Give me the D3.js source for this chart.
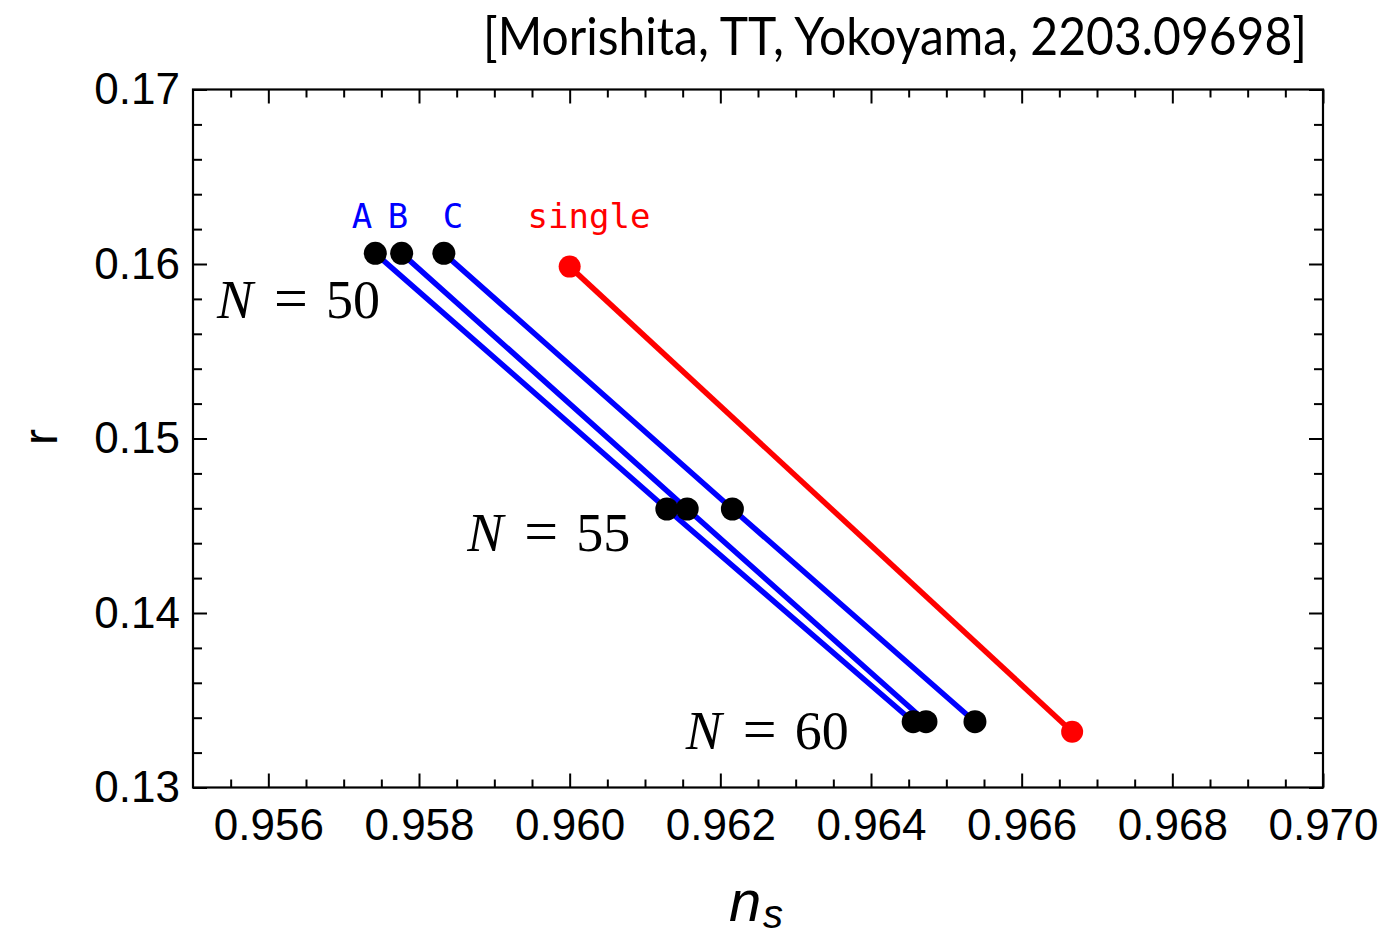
<!DOCTYPE html>
<html>
<head>
<meta charset="utf-8">
<script src="https://cdn.jsdelivr.net/npm/d3@7"></script>
<style>
  html, body { margin: 0; padding: 0; background: #fff; }
  svg { display: block; }
</style>
</head>
<body>
<script>
// e-folding numbers of the three points on each curve
const efolds = [50, 55, 60];

// spectral index n_s and tensor-to-scalar ratio r for each model
const nsA = [0.95742, 0.96129, 0.96456];
const rA  = [0.16061, 0.14596, 0.13377];
const nsB = [0.95777, 0.96156, 0.96473];
const rB  = [0.16061, 0.14596, 0.13377];
const nsC = [0.95833, 0.96216, 0.96538];
const rC  = [0.16061, 0.14596, 0.13377];
const nsSingle = [0.96000, 0.96667];
const rSingle  = [0.15985, 0.13320];

// axis ticks
const xTicks = [0.956, 0.958, 0.960, 0.962, 0.964, 0.966, 0.968, 0.970];
const xTickLabels = ["0.956", "0.958", "0.960", "0.962", "0.964", "0.966", "0.968", "0.970"];
const yTicks = [0.13, 0.14, 0.15, 0.16, 0.17];
const yTickLabels = ["0.13", "0.14", "0.15", "0.16", "0.17"];

// model name labels (anchor in data units)
const modelNames = ["A", "B", "C", "single"];
const modelNameNs = [0.957243, 0.957721, 0.958451, 0.960257];
const modelNameR = [0.16206, 0.16206, 0.16206, 0.16206];

// N labels (left edge / baseline in data units)
const nLabelValues = ["50", "55", "60"];
const nLabelNs = [0.95536, 0.95868, 0.96158];
const nLabelR = [0.15691, 0.14355, 0.13221];

(function draw() {
  const W = 1400, H = 939;
  const margin = { left: 193, right: 77, top: 89.5, bottom: 151.5 };

  const svg = d3.select("body").append("svg")
    .attr("width", W).attr("height", H)
    .attr("viewBox", `0 0 ${W} ${H}`);

  const x = d3.scaleLinear().domain([0.955, 0.970]).range([margin.left, W - margin.right]);
  const y = d3.scaleLinear().domain([0.13, 0.17]).range([H - margin.bottom, margin.top]);

  const tickFont = "'Liberation Sans', Arial, sans-serif";

  // minor ticks between the labelled ones
  const isMajor = (v, origin, step) => Math.abs((v - origin) / step - Math.round((v - origin) / step)) < 1e-6;
  const xMinor = d3.range(1, 30).map(i => 0.955 + i * 0.0005).filter(v => !isMajor(v, 0.956, 0.002));
  const yMinor = d3.range(1, 20).map(i => 0.13 + i * 0.002).filter(v => !isMajor(v, 0.13, 0.01));

  function styleAxis(g) {
    g.select(".domain").remove();
    g.selectAll("line").attr("stroke", "#000").attr("stroke-width", 2);
    g.selectAll("text").attr("font-family", tickFont).attr("font-size", 44).attr("fill", "#000");
  }

  const yBot = H - margin.bottom, yTop = margin.top, xLeft = margin.left, xRight = W - margin.right;

  // bottom axis: labelled major ticks + minor ticks
  svg.append("g").attr("transform", `translate(0,${yBot})`)
    .call(d3.axisBottom(x).tickValues(xTicks).tickFormat((d, i) => xTickLabels[i]).tickSize(-14).tickPadding(21))
    .call(styleAxis);
  svg.append("g").attr("transform", `translate(0,${yBot})`)
    .call(d3.axisBottom(x).tickValues(xMinor).tickFormat("").tickSize(-8))
    .call(styleAxis);
  // top axis
  svg.append("g").attr("transform", `translate(0,${yTop})`)
    .call(d3.axisTop(x).tickValues(xTicks).tickFormat("").tickSize(-14))
    .call(styleAxis);
  svg.append("g").attr("transform", `translate(0,${yTop})`)
    .call(d3.axisTop(x).tickValues(xMinor).tickFormat("").tickSize(-8))
    .call(styleAxis);
  // left axis
  svg.append("g").attr("transform", `translate(${xLeft},0)`)
    .call(d3.axisLeft(y).tickValues(yTicks).tickFormat((d, i) => yTickLabels[i]).tickSize(-14).tickPadding(13))
    .call(styleAxis);
  svg.append("g").attr("transform", `translate(${xLeft},0)`)
    .call(d3.axisLeft(y).tickValues(yMinor).tickFormat("").tickSize(-9))
    .call(styleAxis);
  // right axis
  svg.append("g").attr("transform", `translate(${xRight},0)`)
    .call(d3.axisRight(y).tickValues(yTicks).tickFormat("").tickSize(-14))
    .call(styleAxis);
  svg.append("g").attr("transform", `translate(${xRight},0)`)
    .call(d3.axisRight(y).tickValues(yMinor).tickFormat("").tickSize(-9))
    .call(styleAxis);

  // frame
  svg.append("rect")
    .attr("x", xLeft).attr("y", yTop)
    .attr("width", xRight - xLeft).attr("height", yBot - yTop)
    .attr("fill", "none").attr("stroke", "#000").attr("stroke-width", 2.2);

  // curves
  const series = [
    { ns: nsA, r: rA, color: "#0000ff", dot: "#000", rad: 11.5 },
    { ns: nsB, r: rB, color: "#0000ff", dot: "#000", rad: 11.5 },
    { ns: nsC, r: rC, color: "#0000ff", dot: "#000", rad: 11.5 },
    { ns: nsSingle, r: rSingle, color: "#ff0000", dot: "#ff0000", rad: 11 }
  ];

  const line = d3.line().x(d => x(d[0])).y(d => y(d[1]));

  svg.append("g").selectAll("path")
    .data(series)
    .join("path")
    .attr("d", s => line(d3.zip(s.ns, s.r)))
    .attr("fill", "none")
    .attr("stroke", s => s.color)
    .attr("stroke-width", 5.5);

  series.forEach(s => {
    svg.append("g").selectAll("circle")
      .data(d3.zip(s.ns, s.r))
      .join("circle")
      .attr("cx", d => x(d[0]))
      .attr("cy", d => y(d[1]))
      .attr("r", s.rad)
      .attr("fill", s.dot);
  });

  // model names
  svg.append("g").selectAll("text")
    .data(modelNames)
    .join("text")
    .attr("x", (d, i) => x(modelNameNs[i]))
    .attr("y", (d, i) => y(modelNameR[i]))
    .attr("text-anchor", "middle")
    .attr("font-family", "'DejaVu Sans Mono', 'Liberation Mono', monospace")
    .attr("font-size", 34)
    .attr("fill", (d, i) => i < 3 ? "#0000ff" : "#ff0000")
    .text(d => d);

  // N = ... labels
  const nl = svg.append("g").selectAll("g")
    .data(nLabelValues)
    .join("g")
    .attr("transform", (d, i) => `translate(${x(nLabelNs[i])},${y(nLabelR[i])})`)
    .attr("font-family", "'Liberation Serif', 'Times New Roman', serif")
    .attr("font-size", 54)
    .attr("fill", "#000");
  nl.append("text").attr("x", -3).attr("font-style", "italic").text("N");
  nl.append("text").attr("x", 54).attr("font-size", 60).text("=");
  nl.append("text").attr("x", 106).text(d => d);

  // axis titles
  svg.append("text")
    .attr("transform", `translate(57,437) rotate(-90)`)
    .attr("text-anchor", "middle")
    .attr("font-family", tickFont)
    .attr("font-size", 48)
    .text("r");

  svg.append("text")
    .attr("x", 729).attr("y", 921)
    .attr("font-family", tickFont)
    .attr("font-style", "italic")
    .attr("font-size", 58)
    .text("n");
  svg.append("text")
    .attr("x", 763).attr("y", 928)
    .attr("font-family", tickFont)
    .attr("font-style", "italic")
    .attr("font-size", 40)
    .text("s");

  // reference tag
  svg.append("text")
    .attr("x", 483).attr("y", 55)
    .attr("font-family", "Lato, 'Open Sans', sans-serif")
    .attr("font-size", 52)
    .attr("textLength", 824)
    .attr("lengthAdjust", "spacingAndGlyphs")
    .attr("fill", "#000")
    .text("[Morishita, TT,  Yokoyama, 2203.09698]");
})();
</script>
</body>
</html>
